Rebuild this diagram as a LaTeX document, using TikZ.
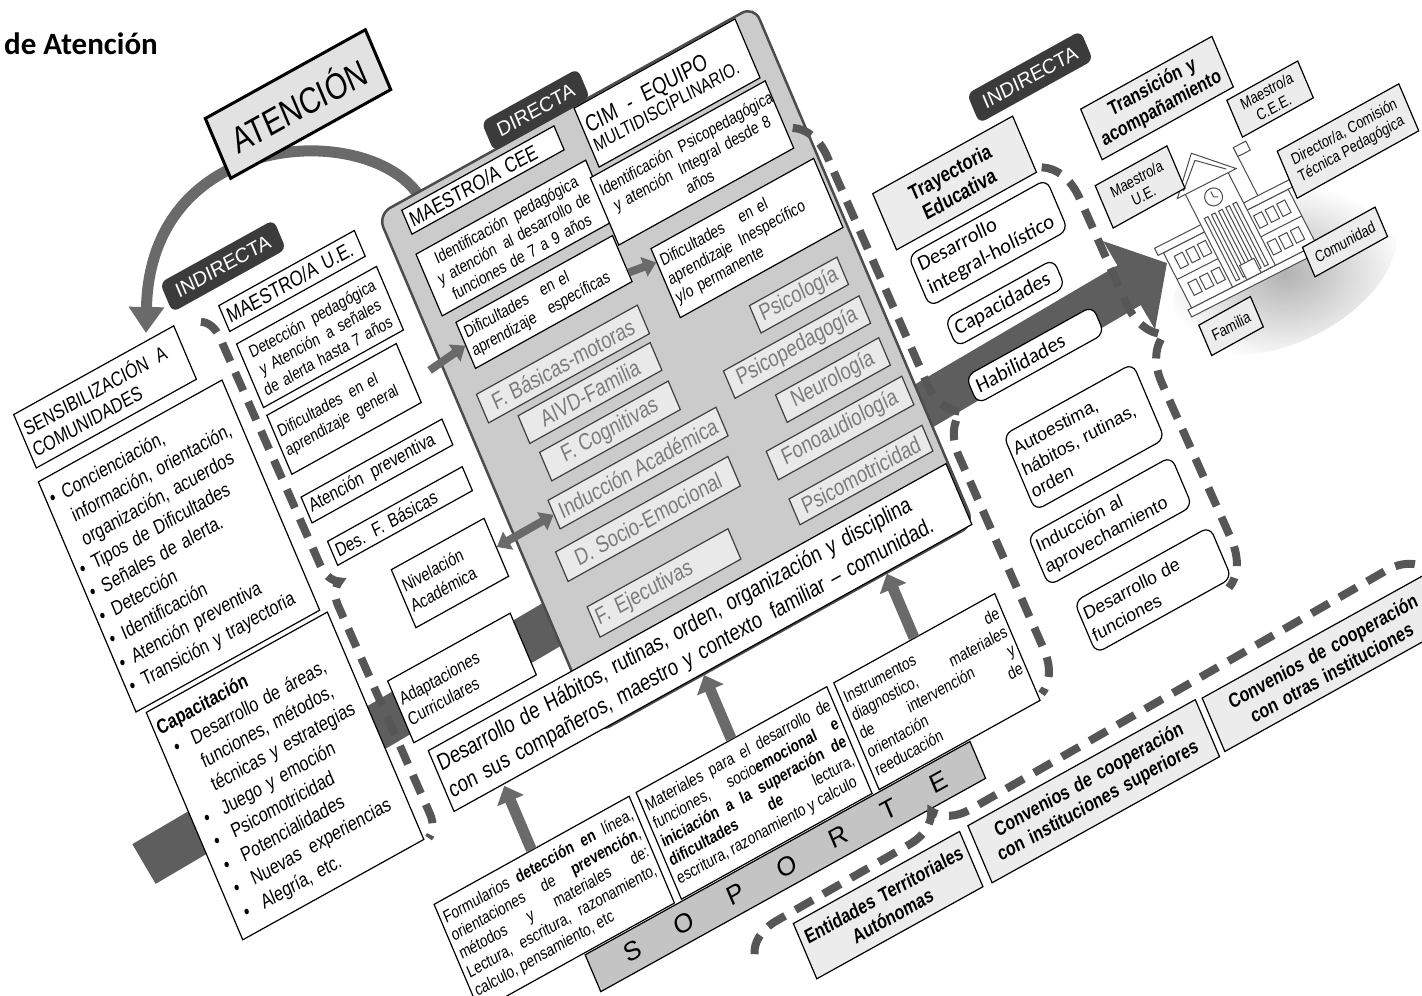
\documentclass[tikz,border=0pt]{standalone}
\usepackage{fontspec}
\setmainfont{Liberation Sans}
\newfontfamily\nar{Liberation Sans}[FakeStretch=0.82]
\newfontfamily\calib{Carlito}
\usetikzlibrary{arrows.meta,calc,decorations.pathreplacing}
\newcommand\fs[2]{\fontsize{#1}{#2}\selectfont}
\newcommand\bul{\makebox[14pt][l]{\textbullet}}
\newcommand\cbul{\makebox[28pt][l]{\hspace{8pt}\textbullet}}
\newcommand\sgap{\hspace{40pt}}
\definecolor{tagc}{HTML}{3B3B3B}
\definecolor{barc}{HTML}{5E5E5E}
\definecolor{dashc}{HTML}{565656}
\definecolor{greyc}{HTML}{CBCBCB}
\definecolor{itemc}{HTML}{E9E9E9}
\definecolor{itemt}{HTML}{7C7C7C}
\definecolor{labc}{HTML}{ECECEC}
\definecolor{sopc}{HTML}{C4C4C4}
\definecolor{arrc}{HTML}{6A6A6A}
\definecolor{atenc}{HTML}{E2E2E2}
\begin{document}
\begin{tikzpicture}[x=1pt,y=-1pt,
  slab/.style={shift={(700,500)},cm={0.8746,0.4848,-0.3907,0.9205,(0,0)},transform shape},
  wbox/.style={draw,fill=white,line width=1.2pt,inner sep=4pt,align=left,font=\nar\fs{17}{20}},
  rbox/.style={wbox,rounded corners=9pt,inner sep=6pt,font=\calib\fs{21}{25}},
  gitem/.style={draw=black!75,fill=itemc,text=itemt,line width=1.2pt,inner sep=4pt,font=\nar\fs{23}{26}},
  tag/.style={fill=tagc,text=white,rounded corners=7pt,minimum width=130pt,minimum height=32pt,font=\fs{20}{22}},
  lbl/.style={draw,fill=labc,line width=1.2pt,inner sep=3pt,align=center,font=\nar\fs{16}{18}},
  hbox/.style={wbox,fill=labc,align=center,font=\nar\bfseries\fs{20}{23}},
  smallarr/.style={draw=arrc,line width=8pt,-{Triangle[width=20pt,length=13pt]}},
  uparr/.style={draw=arrc,line width=11pt,-{Triangle[width=28pt,length=16pt]}},
  bigarr/.style={draw=barc,line width=46pt,-{Triangle[width=100pt,length=44pt]}},
  bowarr/.style={draw=arrc,line width=11pt,-{Triangle[width=34pt,length=26pt]}},
  brc/.style 2 args={draw=dashc,line width=8pt,dash pattern=on 20pt off 12pt,decorate,decoration={brace,amplitude=#1,aspect=#2}},
  bld/.style={draw=black!70,fill=white,line width=1pt}]
\useasboundingbox (0,0) rectangle (1422,996);
\node[anchor=base west,inner sep=0pt,font=\calib\bfseries\fs{31}{36}] (title) at (4,54) {de Atención};

\shade[inner color=black!30,outer color=white,rotate around={27:(1285,272)}] (1285,272) ellipse (120 and 70);
\coordinate (barL) at (144,864);
\coordinate (barR) at (1167,263);
\draw[bigarr] (barL) -- (barR);
\coordinate (bowA) at (425,207);
\coordinate (bowB) at (146,333);
\draw[bowarr] (bowA) .. controls (390,120) and (150,120) .. (bowB);

\begin{scope}[slab]
\node[draw,fill=atenc,line width=3pt,minimum width=183pt,minimum height=65pt,font=\nar\fs{36}{40}] (aten) at (-216.5,-544.2) {ATENCIÓN};
\node[tag] (indl) at (-349.6,-438.3) {INDIRECTA};
\node[wbox,text width=175pt,minimum height=58pt,font=\nar\fs{20}{23}] (sens) at (-510.2,-380.7) {SENSIBILIZACIÓN\enspace A\\COMUNIDADES};
\node[wbox,text width=202pt,minimum height=250pt,font=\nar\fs{20}{25.5}] (list) at (-500.3,-213.5) {\bul Concienciación,\\\hspace*{14pt}información, orientación,\\\hspace*{14pt}organización, acuerdos\\\bul Tipos de Dificultades\\\bul Señales de alerta.\\\bul Detección\\\bul Identificación\\\bul Atención preventiva\\\bul Transición y trayectoria};
\node[wbox,text width=199pt,minimum height=247pt,font=\nar\fs{20}{25.5}] (capa) at (-492.5,40.4) {\textbf{Capacitación}\\\cbul Desarrollo de áreas,\\\hspace*{28pt}funciones, métodos,\\\hspace*{28pt}técnicas y estrategias\\\cbul Juego y emoción\\\cbul Psicomotricidad\\\cbul Potencialidades\\\cbul Nuevas\enspace experiencias\\\cbul Alegría, etc.};

\node[wbox,text width=147pt,minimum height=28pt,font=\nar\fs{21}{23}] (ue) at (-291.6,-391.5) {MAESTRO/A U.E.};
\node[wbox,text width=152pt,minimum height=69pt,align=center] (det) at (-287.7,-328.6) {Detección\enspace pedagógica\\y Atención\enspace a señales\\de alerta hasta 7 años};
\node[wbox,text width=140pt,minimum height=64pt] (difg) at (-293.7,-253.6) {Dificultades\enspace en el\\aprendizaje\enspace general};
\node[wbox,text width=153pt,minimum height=28pt,font=\nar\fs{19}{21}] (prev) at (-287.6,-183) {Atención\enspace preventiva};
\node[wbox,text width=146pt,minimum height=26pt,font=\nar\fs{19}{21}] (desf) at (-284,-132.2) {Des. F. Básicas};
\node[wbox,text width=98pt,minimum height=63pt,font=\nar\fs{18}{22}] (niv) at (-260.1,-57.7) {Nivelación\\Académica};
\node[wbox,text width=132pt,minimum height=67pt,font=\nar\fs{18}{22}] (adap) at (-290.2,40.5) {Adaptaciones\\Curriculares};

\node[draw=black!70,fill=greyc,line width=2.5pt,rounded corners=14pt,minimum width=430pt,minimum height=563pt] (grey) at (29,-126.5) {};
\node[tag,minimum width=110pt] (dir) at (1.2,-423) {DIRECTA};
\node[wbox,text width=166pt,minimum height=26pt,font=\nar\fs{21}{23}] (cee) at (-75.2,-387.2) {MAESTRO/A CEE};
\node[wbox,text width=186pt,minimum height=67pt,align=center] (idp) at (-69.3,-321.1) {Identificación\enspace pedagógica\\y atención\enspace al desarrollo de\\funciones de 7 a 9 años};
\node[wbox,text width=171pt,minimum height=50pt] (dife) at (-66.6,-250.2) {Dificultades\enspace\ en el\\aprendizaje\enspace\ específicas};
\node[wbox,text width=176pt,minimum height=64pt] (cim) at (129.4,-374) {\fs{23}{27}CIM\enspace-\enspace EQUIPO\\\fs{19}{22}MULTIDISCIPLINARIO.};
\node[wbox,text width=192pt,minimum height=73pt,align=center] (idi) at (125,-300.3) {Identificación\enspace Psicopedagógica\\y atención\enspace Integral desde 8\\años};
\node[wbox,text width=178pt,minimum height=75pt] (difi) at (146.4,-207.5) {Dificultades\quad en el\\aprendizaje\enspace Inespecífico\\y/o permanente};

\node[gitem,minimum width=184pt,minimum height=31pt] (fbm) at (-73.4,-186.4) {F. Básicas-motoras};
\node[gitem,minimum width=151pt,minimum height=30pt] (aivd) at (-59.8,-147.7) {AIVD-Familia};
\node[gitem,minimum width=147pt,minimum height=31pt] (fcog) at (-56.2,-104.6) {F. Cognitivas};
\node[gitem,minimum width=192pt,minimum height=31pt] (ind) at (-44.8,-58.3) {Inducción Académica};
\node[gitem,minimum width=197pt,minimum height=32pt] (dse) at (-55.6,-8.7) {D. Socio-Emocional};
\node[gitem,text width=153pt,minimum height=33pt,align=left] (fej) at (-65.9,55.4) {F. Ejecutivas};
\node[gitem,minimum width=100pt,minimum height=28pt] (psi) at (172.1,-132) {Psicología};
\node[gitem,minimum width=155pt,minimum height=29pt] (psp) at (149.9,-87.2) {Psicopedagogía};
\node[gitem,minimum width=118pt,minimum height=27pt] (neu) at (170.2,-40.7) {Neurología};
\node[gitem,minimum width=155pt,minimum height=31pt] (fon) at (157.9,5) {Fonoaudiología};
\node[gitem,minimum width=152pt,minimum height=28pt] (pmo) at (158.8,56.5) {Psicomotricidad};
\node[wbox,text width=584pt,minimum height=66pt,font=\nar\fs{23}{29}] (hab) at (-54,121) {Desarrollo de Hábitos, rutinas, orden, organización y disciplina\\con sus compañeros, maestro y contexto\enspace familiar – comunidad.};

\draw[smallarr,shorten <=20pt] ($(difg.east)!0.3!(difg.south east)$) -- (dife.west);
\draw[smallarr] ($(dife.east)!0.6!(dife.south east)$) -- ($(difi.west)!0.6!(difi.north west)$);
\draw[smallarr,{Triangle[width=20pt,length=13pt]}-{Triangle[width=20pt,length=13pt]}] (niv.east) -- (ind.west);

\node[wbox,text width=215pt,minimum height=116pt,align=justify] (form) at (-293.5,284) {Formularios \textbf{detección en} línea,\linebreak orientaciones de \textbf{prevención},\linebreak métodos y materiales de:\linebreak Lectura, escritura, razonamiento,\linebreak calculo, pensamiento, etc};
\node[wbox,text width=210pt,minimum height=116pt,align=justify] (mat) at (-65,284) {Materiales para el desarrollo de\linebreak funciones, socio\textbf{emocional e}\linebreak \textbf{iniciación a la superación de}\linebreak \textbf{dificultades de} lectura,\linebreak escritura, razonamiento y calculo};
\node[wbox,text width=176pt,minimum height=116pt,align=justify] (inst) at (144,284) {Instrumentos de\linebreak diagnostico, materiales\linebreak de intervención y\linebreak orientación de\linebreak reeducación};
\node[draw,fill=sopc,line width=1.2pt,minimum width=440pt,minimum height=40pt,font=\fs{26}{28}] (sop) at (-65,364) {S\sgap O\sgap P\sgap O\sgap R\sgap T\sgap E};
\coordinate (t1) at (-293.5,156);
\coordinate (t2) at (-65,156);
\coordinate (t3) at (144,156);
\draw[uparr] (form.north) -- (t1);
\draw[uparr] (mat.north) -- (t2);
\draw[uparr] (inst.north) -- (t3);

\node[hbox] at (15,448) [text width=182pt,minimum height=60pt] (ent) {Entidades Territoriales\\Autónomas};
\node[hbox] at (250,448) [text width=252pt,minimum height=62pt] (csup) {Convenios de cooperación\\con instituciones superiores};
\node[hbox] at (517,448) [text width=252pt,minimum height=58pt] (cotr) {Convenios de cooperación\\con otras instituciones};

\node[tag] (indr) at (471.6,-211.1) {INDIRECTA};
\node[hbox,text width=152pt,minimum height=61pt,font=\nar\bfseries\fs{21}{24}] (tray) at (360.2,-154.7) {Trayectoria\\Educativa};
\node[rbox,text width=146pt,minimum height=55pt] (dih) at (367.6,-85.6) {Desarrollo\\integral-holístico};
\node[rbox,text width=112pt,minimum height=30pt] (capd) at (359.7,-24.5) {Capacidades};
\node[rbox,text width=133pt,minimum height=30pt] (habl) at (367.1,35.8) {Habilidades};
\node[rbox,inner sep=4pt,font=\fs{18}{23},text width=140pt,minimum height=82pt] (auto) at (380.2,131.8) {Autoestima,\\hábitos, rutinas,\\orden};
\node[rbox,inner sep=4pt,font=\fs{18}{23},text width=156pt,minimum height=54pt] (indu) at (371.2,218.4) {Inducción al\\aprovechamiento};
\node[rbox,inner sep=4pt,font=\fs{18}{23},text width=147pt,minimum height=56pt] (dfun) at (383.9,299.9) {Desarrollo de\\funciones};
\node[hbox,text width=142pt,minimum height=55pt] (tran) at (580.9,-130.7) {Transición y\\acompañamiento};

\draw[brc={22pt}{0.52}] (-392,-400) -- (-384,165);
\draw[brc={40pt}{0.53}] (232,-282) -- (240,337);
\draw[brc={44pt}{0.44}] (447,-126) -- (455,335);
\draw[brc={36pt}{0.29}] (-128,426) -- (645,414);
\end{scope}

\begin{scope}[shift={(1234,237)},rotate=27]
\filldraw[bld] (-74,44) rectangle (74,52);
\filldraw[bld] (-70,-18) rectangle (70,44);
\filldraw[bld] (-76,-26) rectangle (76,-18);
\draw[bld] (-70,12) -- (70,12);
\foreach \x in {-62,-49,-36,27,40,53}
  \foreach \y in {-10,20} \draw[bld] (\x,\y) rectangle ++(9,14);
\filldraw[bld] (-24,-62) rectangle (24,44);
\filldraw[bld] (-33,-60) -- (0,-94) -- (33,-60) -- cycle;
\draw[bld] (-24,-64) -- (0,-86) -- (24,-64);
\filldraw[bld] (0,-45) circle (9);
\draw[bld] (0,-45) -- (0,-51) (0,-45) -- (4,-43);
\foreach \x in {-16,-8,0,8,16} \draw[bld] (\x-2,-30) rectangle (\x+2,40);
\filldraw[bld] (-8,28) rectangle (8,44);
\draw[bld] (40,-26) -- (40,-80);
\filldraw[bld] (40,-80) rectangle (54,-70);
\end{scope}

\begin{scope}[slab]
\node[lbl,minimum width=81pt,minimum height=40pt] (mcee) at (685.2,-74.7) {Maestro/a\\C.E.E.};
\node[lbl,minimum width=82pt,minimum height=46pt] (mue) at (530.3,-60.8) {Maestro/a\\U.E.};
\node[lbl,minimum width=139pt,minimum height=51pt] (dirc) at (740.8,0.2) {Director/a, Comisión\\Técnica Pedagógica};
\node[lbl,minimum width=83pt,minimum height=32pt] (com) at (698.4,87.5) {Comunidad};
\node[lbl,minimum width=59pt,minimum height=33pt] (fam) at (559.9,105.9) {Familia};
\end{scope}
\end{tikzpicture}
\end{document}
